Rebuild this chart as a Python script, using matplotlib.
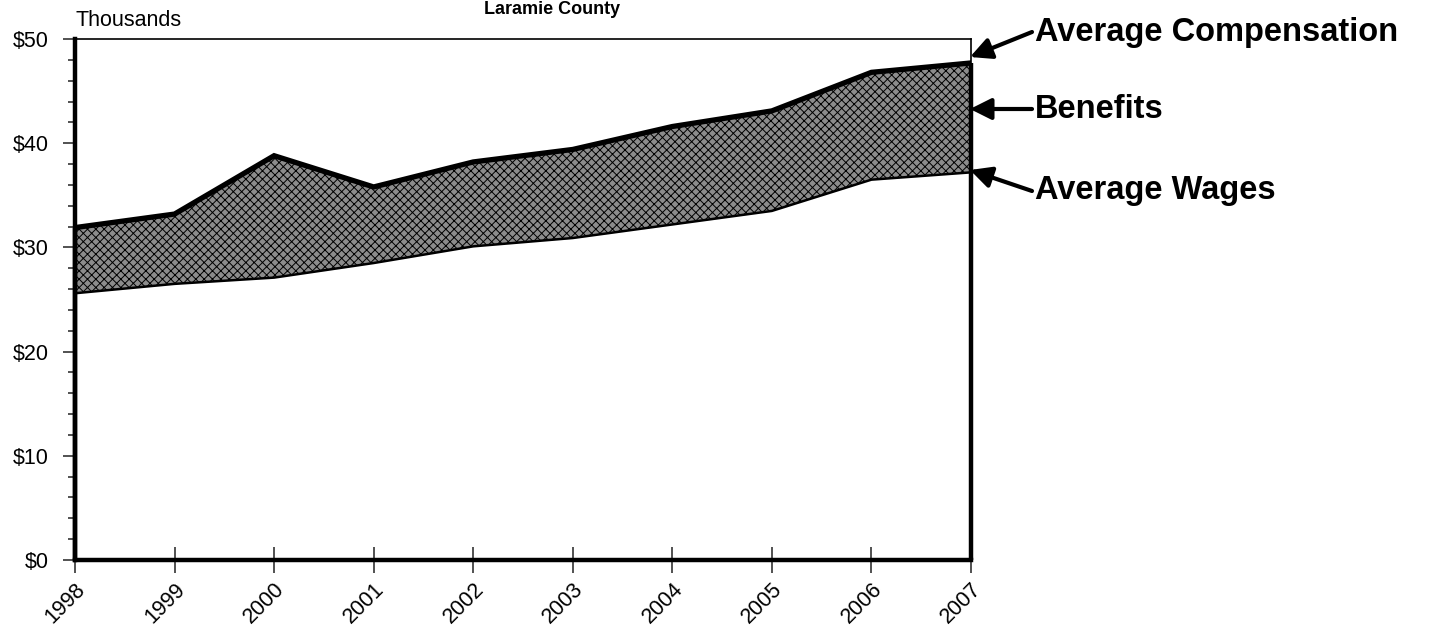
import matplotlib
matplotlib.use("Agg")
import matplotlib.pyplot as plt
from matplotlib.ticker import MultipleLocator

plt.rcParams["font.family"] = ["Liberation Sans", "DejaVu Sans"]
plt.rcParams["hatch.linewidth"] = 0.7

years = [1998, 1999, 2000, 2001, 2002, 2003, 2004, 2005, 2006, 2007]
wages = [25.6, 26.5, 27.1, 28.5, 30.1, 30.9, 32.2, 33.5, 36.5, 37.2]
compensation = [31.9, 33.2, 38.8, 35.8, 38.2, 39.4, 41.6, 43.1, 46.8, 47.7]
year_labels = [str(y) for y in years]
ytick_vals = [0, 10, 20, 30, 40, 50]
ytick_labels = ["$" + str(v) for v in ytick_vals]

fig = plt.figure(figsize=(14.34, 6.35), dpi=100)
ax = fig.add_axes([0.0523, 0.1181, 0.6248, 0.8205])

# stacked areas: wages (white) and benefits (hatched gray)
ax.fill_between(years, 0, wages, facecolor="white", edgecolor="none", zorder=1)
ax.fill_between(years, wages, compensation, facecolor="#8c8c8c",
                edgecolor="black", hatch="xxxx", linewidth=0, zorder=2)

ax.plot(years, compensation, color="black", lw=3.8, solid_joinstyle="miter", zorder=4)
ax.plot(years, wages, color="black", lw=1.8, zorder=4)
ax.vlines([years[0], years[-1]], 0, [compensation[0], compensation[-1]],
          color="black", lw=3.2, zorder=4, clip_on=False)

ax.set_xlim(years[0], years[-1])
ax.set_ylim(0, 50)

for side in ["top", "right"]:
    ax.spines[side].set_linewidth(1.2)
for side in ["left", "bottom"]:
    ax.spines[side].set_linewidth(3.2)
    ax.spines[side].set_zorder(5)

ax.set_yticks(ytick_vals)
ax.set_yticklabels(ytick_labels, fontsize=15.5)
ax.yaxis.set_minor_locator(MultipleLocator(2))
ax.tick_params(axis="y", which="major", direction="out", length=9, width=1.2, color="#333333", pad=10)
ax.tick_params(axis="y", which="minor", direction="out", length=5, width=1.2, color="#333333")

ax.set_xticks(years)
ax.set_xticklabels(year_labels, rotation=45, ha="right", rotation_mode="anchor", fontsize=15.5)
ax.tick_params(axis="x", direction="inout", length=19, width=1.2, color="#333333", pad=4)

ax.text(0.001, 1.016, "Thousands", transform=ax.transAxes, fontsize=15.5,
        ha="left", va="bottom")

fig.text(0.385, 0.999, "Laramie County", fontsize=13, fontweight="bold",
         ha="center", va="top")

# callout labels with arrows
callouts = [
    ("Average Compensation", (1032, 32), (970, 57)),
    ("Benefits", (1032, 109), (970, 109)),
    ("Average Wages", (1032, 191), (970, 170)),
]
H = 635
for label, tail, tip in callouts:
    ax.annotate("", xy=(tip[0] / 1434, 1 - tip[1] / H),
                xytext=(tail[0] / 1434, 1 - tail[1] / H),
                xycoords="figure fraction", textcoords="figure fraction",
                arrowprops=dict(arrowstyle="-|>", color="black", lw=3,
                                mutation_scale=32, shrinkA=0, shrinkB=0))
    fig.text((tail[0] + 3) / 1434, 1 - tail[1] / H, label, fontsize=23.5,
             fontweight="bold", ha="left", va="center")

fig.savefig("out.png", dpi=100, facecolor="white")
